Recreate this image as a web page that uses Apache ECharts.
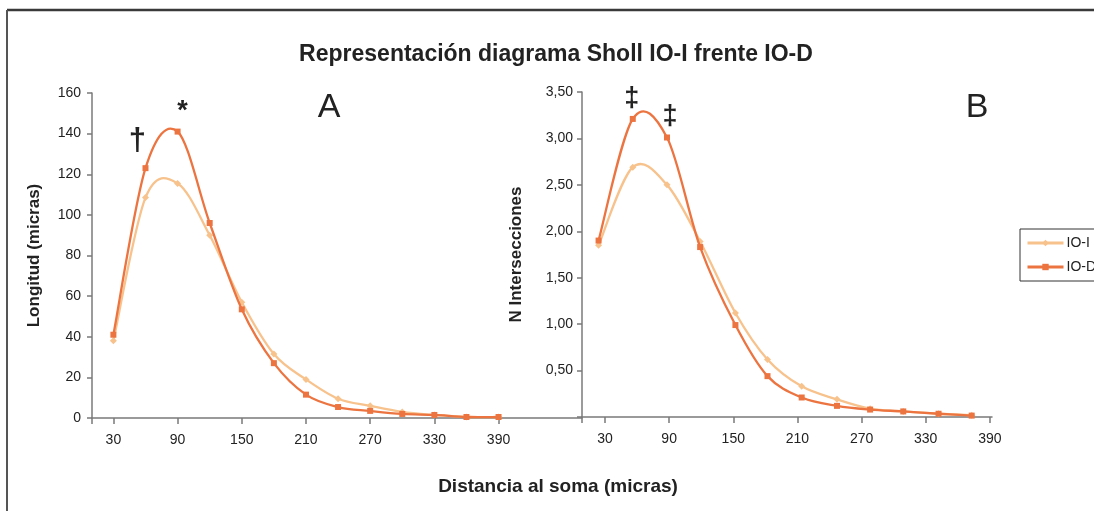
<!DOCTYPE html>
<html>
<head>
<meta charset="utf-8">
<script src="https://cdn.jsdelivr.net/npm/echarts@6/dist/echarts.min.js"></script>
<style>
  html, body { margin: 0; padding: 0; background: #fff; }
  #chart { width: 1094px; height: 511px; }
</style>
</head>
<body>
<div id="chart"></div>
<script>
// Sholl analysis: dendritic length (A) and number of intersections (B)
// as a function of the distance to the soma, for IO-I and IO-D.
const seriesNames = ['IO-I', 'IO-D'];

// Panel A: distance to soma (micras) and dendritic length (micras)
const distA = [30, 60, 90, 120, 150, 180, 210, 240, 270, 300, 330, 360, 390];
const longIOI = [38, 108.5, 115.5, 90, 57, 31.5, 19, 9.5, 6, 3, 1.5, 0.5, 0.5];
const longIOD = [41, 123, 141, 96, 53.5, 27, 11.5, 5.4, 3.5, 2, 1.5, 0.5, 0.5];

// Panel B: distance to soma (micras) and number of intersections
const distB = [24, 56, 88, 119, 152, 182, 214, 247, 278, 309, 342, 373];
const interIOI = [1.85, 2.69, 2.50, 1.89, 1.12, 0.62, 0.33, 0.19, 0.09, 0.06, 0.035, 0.02];
const interIOD = [1.90, 3.21, 3.01, 1.83, 0.99, 0.44, 0.21, 0.12, 0.08, 0.06, 0.035, 0.015];

// Axis tick labels
const xTickLabels = [30, 90, 150, 210, 270, 330, 390];

// Significance marks: [panel, distance, value, symbol, label offset]
const sigMarks = [
  ['A', 60, 123, '†', [-8, -27]],
  ['A', 90, 141, '*', [5, -20]],
  ['B', 56, 3.21, '‡', [-1, -20]],
  ['B', 88, 3.01, '‡', [3, -21]]
];

const colIOI = '#F7C28C';
const colIOD = '#EC7440';
const axisCol = '#7a7a7a';
const textCol = '#222';
const FONT = '"Liberation Sans", Arial, sans-serif';
const LINE_W = 2.3;

function pair(xs, ys) { return xs.map((x, i) => [x, ys[i]]); }
function commaFmt(v) { return v === 0 ? '' : v.toFixed(2).replace('.', ','); }

function marksFor(panel) {
  return sigMarks.filter(m => m[0] === panel).map(m => ({
    coord: [m[1], m[2]],
    symbol: 'circle',
    symbolSize: 1,
    itemStyle: { color: 'rgba(0,0,0,0)' },
    label: {
      show: true,
      formatter: m[3],
      position: 'inside',
      offset: m[4],
      fontFamily: FONT,
      fontWeight: 'bold',
      fontSize: m[3] === '†' ? 31 : 27,
      color: textCol
    }
  }));
}

// Smooth curve through the points (cardinal spline, one Bezier per segment)
function curveSeries(xs, ys, color, xi, yi, z) {
  return {
    type: 'custom',
    xAxisIndex: xi,
    yAxisIndex: yi,
    data: pair(xs, ys),
    z: z,
    silent: true,
    animation: false,
    renderItem: function (params, api) {
      const i = params.dataIndex;
      const n = xs.length;
      if (i >= n - 1) return null;
      const p = k => api.coord([xs[Math.max(0, Math.min(n - 1, k))], ys[Math.max(0, Math.min(n - 1, k))]]);
      const p0 = p(i - 1), p1 = p(i), p2 = p(i + 1), p3 = p(i + 2);
      const t = 1 / 6;
      return {
        type: 'bezierCurve',
        shape: {
          x1: p1[0], y1: p1[1],
          x2: p2[0], y2: p2[1],
          cpx1: p1[0] + (p2[0] - p0[0]) * t, cpy1: p1[1] + (p2[1] - p0[1]) * t,
          cpx2: p2[0] - (p3[0] - p1[0]) * t, cpy2: p2[1] - (p3[1] - p1[1]) * t
        },
        style: { stroke: color, lineWidth: LINE_W, fill: null, lineCap: 'round' }
      };
    }
  };
}

// Point markers (the curve itself is drawn by curveSeries)
function markerSeries(name, xs, ys, color, symbol, size, xi, yi, z, marks) {
  return {
    name: name,
    type: 'line',
    xAxisIndex: xi,
    yAxisIndex: yi,
    data: pair(xs, ys),
    symbol: symbol,
    symbolSize: size,
    showSymbol: true,
    lineStyle: { width: 0, opacity: 0 },
    itemStyle: { color: color },
    z: z,
    markPoint: marks ? { data: marks, animation: false } : undefined,
    animation: false
  };
}

const xAxisCommon = {
  type: 'value',
  splitLine: { show: false },
  axisLine: { lineStyle: { color: axisCol, width: 1.5 } },
  axisTick: { length: 6, lineStyle: { color: axisCol, width: 1.5 } },
  axisLabel: { fontFamily: FONT, fontSize: 14, color: textCol, margin: 15, customValues: xTickLabels }
};
const yAxisCommon = {
  type: 'value',
  splitLine: { show: false },
  axisLine: { show: true, lineStyle: { color: axisCol, width: 1.5 } },
  axisTick: { show: true, length: 5, lineStyle: { color: axisCol, width: 1.5 } },
  nameLocation: 'middle',
  nameTextStyle: { fontFamily: FONT, fontSize: 17, fontWeight: 'bold', color: textCol }
};

const chart = echarts.init(document.getElementById('chart'), null, { renderer: 'canvas' });

chart.setOption({
  backgroundColor: '#fff',
  animation: false,
  grid: [
    { left: 92, top: 93, right: 512, bottom: 93 },
    { left: 582, top: 92, right: 102, bottom: 94 }
  ],
  xAxis: [
    Object.assign({}, xAxisCommon, {
      gridIndex: 0, min: 10, max: 468,
      axisTick: Object.assign({}, xAxisCommon.axisTick, { customValues: [10].concat(xTickLabels) })
    }),
    Object.assign({}, xAxisCommon, {
      gridIndex: 1, min: 8.5, max: 392,
      axisTick: Object.assign({}, xAxisCommon.axisTick, { customValues: [8.5].concat(xTickLabels) })
    })
  ],
  yAxis: [
    Object.assign({}, yAxisCommon, {
      gridIndex: 0, min: 0, max: 160, interval: 20,
      name: 'Longitud (micras)', nameGap: 49,
      axisLabel: { fontFamily: FONT, fontSize: 14, color: textCol, margin: 11 }
    }),
    Object.assign({}, yAxisCommon, {
      gridIndex: 1, min: 0, max: 3.5, interval: 0.5,
      name: 'N Intersecciones', nameGap: 57,
      axisLabel: { fontFamily: FONT, fontSize: 14, color: textCol, margin: 9, formatter: commaFmt }
    })
  ],
  legend: {
    orient: 'vertical',
    left: 1020,
    top: 229,
    data: [
      { name: 'IO-I', lineStyle: { color: colIOI, width: 3, opacity: 1 }, itemStyle: { color: colIOI } },
      { name: 'IO-D', lineStyle: { color: colIOD, width: 3, opacity: 1 }, itemStyle: { color: colIOD } }
    ],
    itemWidth: 36,
    itemHeight: 8,
    itemGap: 10,
    padding: [7, 30, 7, 6],
    borderColor: '#333',
    borderWidth: 1,
    borderRadius: 0,
    textStyle: { fontFamily: FONT, fontSize: 14, color: textCol, padding: [0, 0, 0, -2] }
  },
  graphic: [
    { type: 'line', shape: { x1: 7, y1: 10, x2: 1094, y2: 10 }, style: { stroke: '#3a3a3a', lineWidth: 2.5 }, silent: true },
    { type: 'line', shape: { x1: 7, y1: 10, x2: 7, y2: 511 }, style: { stroke: '#555', lineWidth: 2 }, silent: true },
    { type: 'text', x: 556, y: 55, style: { text: 'Representación diagrama Sholl IO-I frente IO-D', fontFamily: FONT, fontSize: 23, fontWeight: 'bold', fill: textCol, textAlign: 'center', textVerticalAlign: 'middle' } },
    { type: 'text', x: 558, y: 487, style: { text: 'Distancia al soma (micras)', fontFamily: FONT, fontSize: 19, fontWeight: 'bold', fill: textCol, textAlign: 'center', textVerticalAlign: 'middle' } },
    { type: 'text', x: 329, y: 108, style: { text: 'A', fontFamily: FONT, fontSize: 34, fill: textCol, textAlign: 'center', textVerticalAlign: 'middle' } },
    { type: 'text', x: 977, y: 108, style: { text: 'B', fontFamily: FONT, fontSize: 34, fill: textCol, textAlign: 'center', textVerticalAlign: 'middle' } }
  ],
  series: [
    curveSeries(distA, longIOI, colIOI, 0, 0, 2),
    curveSeries(distA, longIOD, colIOD, 0, 0, 4),
    markerSeries('IO-I', distA, longIOI, colIOI, 'diamond', 7, 0, 0, 3),
    markerSeries('IO-D', distA, longIOD, colIOD, 'rect', 6, 0, 0, 5, marksFor('A')),
    curveSeries(distB, interIOI, colIOI, 1, 1, 2),
    curveSeries(distB, interIOD, colIOD, 1, 1, 4),
    markerSeries('IO-I', distB, interIOI, colIOI, 'diamond', 7, 1, 1, 3),
    markerSeries('IO-D', distB, interIOD, colIOD, 'rect', 6, 1, 1, 5, marksFor('B'))
  ]
});
</script>
</body>
</html>
